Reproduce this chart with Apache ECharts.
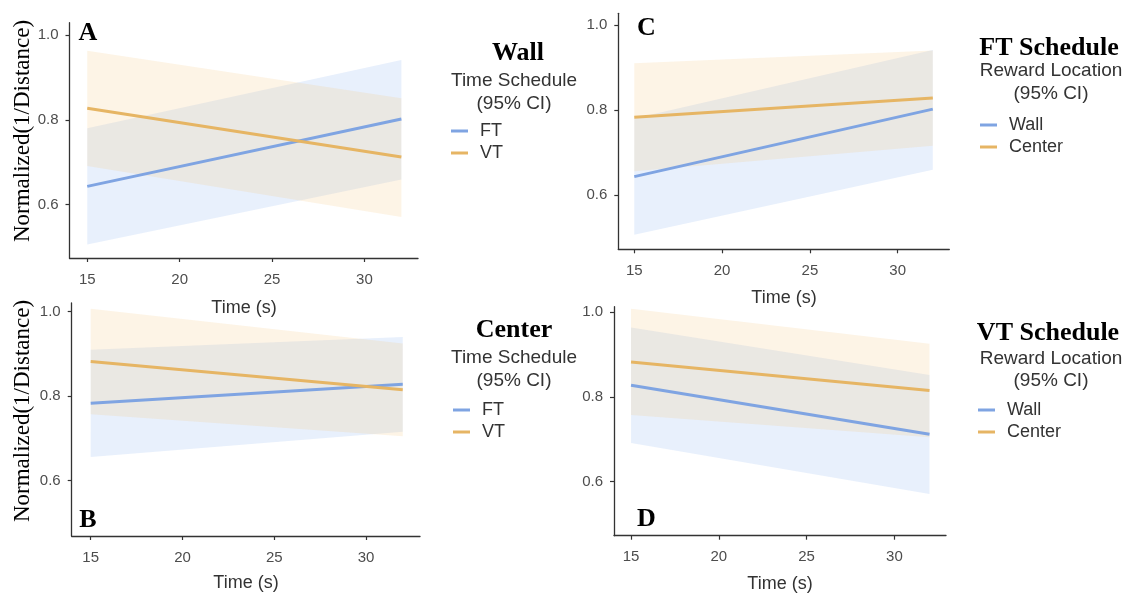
<!DOCTYPE html>
<html>
<head>
<meta charset="utf-8">
<script src="https://cdn.jsdelivr.net/npm/echarts@6/dist/echarts.min.js"></script>
<style>
html,body{margin:0;padding:0;background:#fff;}
#chart{width:1128px;height:594px;}
</style>
</head>
<body>
<div id="chart"></div>
<script>
// ---------- data ----------
const timePoints = [15, 32];
const xTicks = [15, 20, 25, 30];
const yTicks = [0.6, 0.8, 1.0];

// Wall location, FT schedule
const wallFT_fit = [0.643, 0.802];
const wallFT_lo  = [0.506, 0.659];
const wallFT_hi  = [0.780, 0.941];
// Wall location, VT schedule
const wallVT_fit = [0.827, 0.712];
const wallVT_lo  = [0.691, 0.571];
const wallVT_hi  = [0.963, 0.851];
// Center location, FT schedule
const centerFT_fit = [0.783, 0.828];
const centerFT_lo  = [0.656, 0.716];
const centerFT_hi  = [0.910, 0.940];
// Center location, VT schedule
const centerVT_fit = [0.882, 0.815];
const centerVT_lo  = [0.757, 0.705];
const centerVT_hi  = [1.007, 0.925];

const panelLetters = ['A', 'B', 'C', 'D'];
const panelTitles = ['Wall', 'Center', 'FT Schedule', 'VT Schedule'];
const legendSubtitles = ['Time Schedule', 'Time Schedule', 'Reward Location', 'Reward Location'];
const legendNames = [['FT', 'VT'], ['FT', 'VT'], ['Wall', 'Center'], ['Wall', 'Center']];
const panelSeries = [
  [[wallFT_fit, wallFT_lo, wallFT_hi], [wallVT_fit, wallVT_lo, wallVT_hi]],
  [[centerFT_fit, centerFT_lo, centerFT_hi], [centerVT_fit, centerVT_lo, centerVT_hi]],
  [[wallFT_fit, wallFT_lo, wallFT_hi], [centerFT_fit, centerFT_lo, centerFT_hi]],
  [[wallVT_fit, wallVT_lo, wallVT_hi], [centerVT_fit, centerVT_lo, centerVT_hi]]
];

// ---------- layout / style ----------
const grids = [
  {left: 69.5, top: 22.7, width: 348.5, height: 235.3, x: [14.04, 32.9], y: [0.474, 1.029]},
  {left: 71.7, top: 303, width: 348.3, height: 233, x: [13.965, 32.94], y: [0.469, 1.0206]},
  {left: 618.3, top: 13.3, width: 331, height: 236, x: [14.09, 32.94], y: [0.472, 1.0275]},
  {left: 614, top: 306.7, width: 332, height: 229, x: [14.03, 32.94], y: [0.473, 1.012]}
];
const lineColors = ['#7fa4e2', '#e6b564'];
const bandColors = ['rgba(140,180,240,0.2)', 'rgba(245,200,130,0.2)'];

const SANS = '"Liberation Sans", Arial, sans-serif';
const SERIF = '"Liberation Serif", "Times New Roman", serif';
const axisCol = '#333333';

const option = {
  backgroundColor: '#ffffff',
  animation: false,
  grid: [], xAxis: [], yAxis: [], series: [], legend: [], graphic: []
};

grids.forEach((g, i) => {
  option.grid.push({left: g.left, top: g.top, width: g.width, height: g.height,
    containLabel: false, outerBoundsMode: 'none'});
  option.xAxis.push({
    type: 'value', gridIndex: i, min: g.x[0], max: g.x[1],
    axisLine: {onZero: false, lineStyle: {color: axisCol, width: 1.3}},
    axisTick: {show: true, length: 4, customValues: xTicks, lineStyle: {color: axisCol, width: 1.2}},
    axisLabel: {customValues: xTicks, color: '#4d4d4d', fontSize: 15, fontFamily: SANS, margin: 14},
    splitLine: {show: false}
  });
  option.yAxis.push({
    type: 'value', gridIndex: i, min: g.y[0], max: g.y[1],
    axisLine: {show: true, onZero: false, lineStyle: {color: axisCol, width: 1.3}},
    axisTick: {show: true, length: 4, customValues: yTicks, lineStyle: {color: axisCol, width: 1.2}},
    axisLabel: {customValues: yTicks, color: '#4d4d4d', fontSize: 15, fontFamily: SANS, margin: 11,
      formatter: v => v.toFixed(1)},
    splitLine: {show: false}
  });

  panelSeries[i].forEach((s, k) => {
    const [fit, lo, hi] = s;
    const fill = bandColors[k];
    option.series.push({
      type: 'custom', name: legendNames[i][k] + ' CI', xAxisIndex: i, yAxisIndex: i,
      silent: true, clip: true,
      encode: {x: [0, 3], y: [1, 2, 4, 5]},
      data: [[timePoints[0], lo[0], hi[0], timePoints[1], lo[1], hi[1]]],
      renderItem: (params, api) => {
        const pts = [
          api.coord([api.value(0), api.value(1)]),
          api.coord([api.value(3), api.value(4)]),
          api.coord([api.value(3), api.value(5)]),
          api.coord([api.value(0), api.value(2)])
        ];
        return {type: 'polygon', shape: {points: pts}, style: {fill: fill, stroke: null}};
      }
    });
    option.series.push({
      type: 'line', name: legendNames[i][k], xAxisIndex: i, yAxisIndex: i,
      showSymbol: false, symbol: 'none',
      data: timePoints.map((t, j) => [t, fit[j]]),
      itemStyle: {color: lineColors[k]},
      lineStyle: {color: lineColors[k], width: 3}
    });
  });
});

// legends
const legendPos = [
  {left: 451, firstY: 131},
  {left: 453, firstY: 410},
  {left: 980, firstY: 125},
  {left: 978, firstY: 410}
];
legendPos.forEach((p, i) => {
  option.legend.push({
    data: legendNames[i], orient: 'vertical', left: p.left, top: p.firstY - 10,
    icon: 'rect', itemWidth: 17, itemHeight: 3, itemGap: 2, selectedMode: false,
    padding: 0,
    textStyle: {fontSize: 18, fontFamily: SANS, color: '#333333', lineHeight: 20, padding: [0, 0, 0, 7]}
  });
});

function txt(x, y, text, font, color, extra) {
  return Object.assign({
    type: 'text', x: x, y: y,
    style: {text: text, font: font, fill: color, textAlign: 'center', textVerticalAlign: 'middle'}
  }, extra || {});
}

// legend titles
const legTitlePos = [
  [518, 53, 514, 81, 514, 104],
  [514, 330, 514, 358, 514, 381],
  [1049, 48, 1051, 71, 1051, 94],
  [1048, 333, 1051, 359, 1051, 381]
];
legTitlePos.forEach((p, i) => {
  option.graphic.push(txt(p[0], p[1], panelTitles[i], 'bold 26px ' + SERIF, '#000000'));
  option.graphic.push(txt(p[2], p[3], legendSubtitles[i], '19px ' + SANS, '#333333'));
  option.graphic.push(txt(p[4], p[5], '(95% CI)', '19px ' + SANS, '#333333'));
});

// panel letters
const letterPos = [[88, 33], [88, 520], [646.5, 28], [646.5, 519]];
letterPos.forEach((p, i) => {
  option.graphic.push(txt(p[0], p[1], panelLetters[i], 'bold 26px ' + SERIF, '#000000'));
});

// x axis titles
const xTitlePos = [[244, 308], [246, 583], [784, 298], [780, 584]];
xTitlePos.forEach(p => {
  option.graphic.push(txt(p[0], p[1], 'Time (s)', '18px ' + SANS, '#333333'));
});

// y axis titles
[[23, 131], [23, 411]].forEach(p => {
  option.graphic.push(txt(p[0], p[1], 'Normalized(1/Distance)', '23px ' + SERIF, '#000000',
    {rotation: Math.PI / 2}));
});

const chart = echarts.init(document.getElementById('chart'), null, {renderer: 'canvas'});
chart.setOption(option);
</script>
</body>
</html>
